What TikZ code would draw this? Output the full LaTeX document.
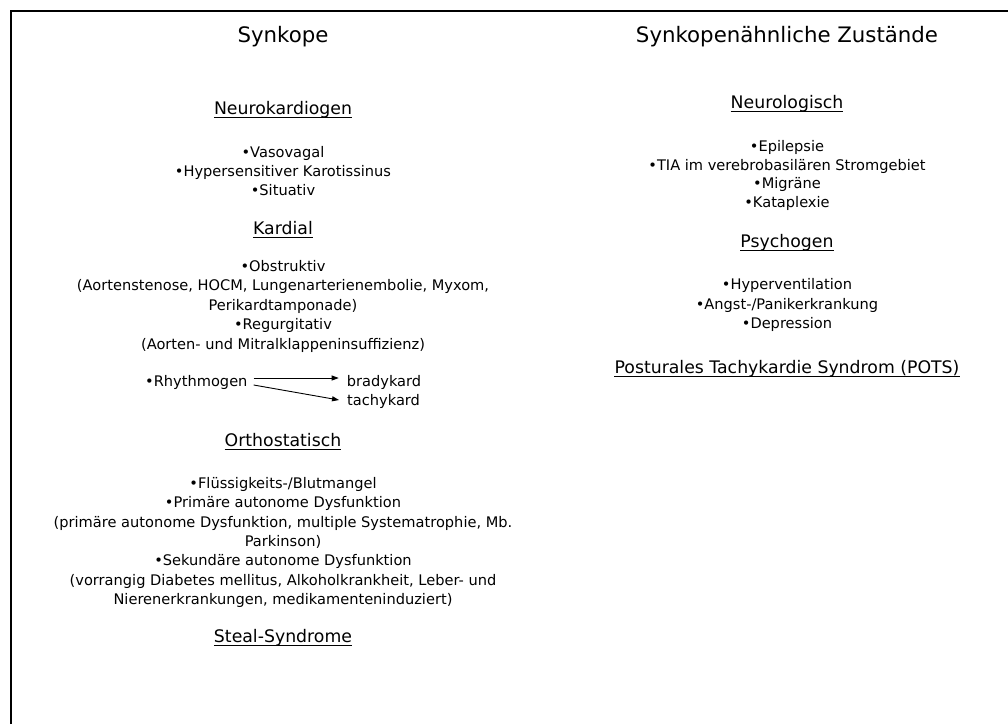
\documentclass[tikz,border=0pt]{standalone}
\usepackage{fontspec}
\setmainfont{DejaVu Sans}
\usetikzlibrary{arrows.meta}
\begin{document}
\begin{tikzpicture}[x=1pt,y=-1pt,
  txt/.style={inner sep=0pt, anchor=base, font=\fontsize{14.6}{19}\selectfont},
  ttl/.style={inner sep=0pt, anchor=base, font=\fontsize{21.3}{25}\selectfont},
  hd/.style={inner sep=0pt, anchor=base, font=\fontsize{17.3}{20}\selectfont},
  frame/.style={line width=2.3pt},
  arr/.style={line width=0.9pt, -{Triangle[length=7pt,width=5pt]}},
  ulbase/.style={line width=1.1pt}]
\useasboundingbox (0,0) rectangle (1008,724);
\fill[white] (0,0) rectangle (1008,724);
% frame (open to the right and bottom)
\draw[frame] (10.8,724) -- (10.8,10.8) -- (1008,10.8);

% ---------- left column ----------
\def\LX{283}
\node[ttl] (t1) at (\LX,42) {Synkope};

\node[hd] (h1) at (\LX,114) {Neurokardiogen};
\node[txt] (l1) at (\LX,157.3) {•Vasovagal};
\node[txt] (l2) at (\LX,176.5) {•Hypersensitiver Karotissinus};
\node[txt] (l3) at (\LX,195.7) {•Situativ};

\node[hd] (h2) at (\LX,234.7) {Kardial};
\node[txt] (k1) at (\LX,271.5) {•Obstruktiv};
\node[txt] (k2) at (\LX,290.9) {(Aortenstenose, HOCM, Lungenarterienembolie, Myxom,};
\node[txt] (k3) at (\LX,310.3) {Perikardtamponade)};
\node[txt] (k4) at (\LX,329.7) {•Regurgitativ};
\node[txt] (k5) at (\LX,349.1) {(Aorten- und Mitralklappeninsuffizienz)};

\node[txt, anchor=base west] (rhy) at (145,386) {•Rhythmogen};
\node[txt, anchor=base west] (brady) at (346.7,386) {bradykard};
\node[txt, anchor=base west] (tachy) at (347,405) {tachykard};
\draw[arr] ([shift={(6,-8)}]rhy.base east) -- ([shift={(-8,-8)}]brady.base west);
\draw[arr] ([shift={(6,-1)}]rhy.base east) -- ([shift={(-8,-5)}]tachy.base west);

\node[hd] (h3) at (\LX,446) {Orthostatisch};
\node[txt] (o1) at (\LX,488.5) {•Flüssigkeits-/Blutmangel};
\node[txt] (o2) at (\LX,507.8) {•Primäre autonome Dysfunktion};
\node[txt] (o3) at (\LX,527.1) {(primäre autonome Dysfunktion, multiple Systematrophie, Mb.};
\node[txt] (o4) at (\LX,546.4) {Parkinson)};
\node[txt] (o5) at (\LX,565.7) {•Sekundäre autonome Dysfunktion};
\node[txt] (o6) at (\LX,585) {(vorrangig Diabetes mellitus, Alkoholkrankheit, Leber- und};
\node[txt] (o7) at (\LX,604.3) {Nierenerkrankungen, medikamenteninduziert)};

\node[hd] (h4) at (\LX,642.3) {Steal-Syndrome};

% ---------- right column ----------
\def\RX{787}
\node[ttl] (t2) at (\RX,42) {Synkopenähnliche Zustände};

\node[hd] (h5) at (\RX,108) {Neurologisch};
\node[txt] (r1) at (\RX,151.2) {•Epilepsie};
\node[txt] (r2) at (\RX,170) {•TIA im verebrobasilären Stromgebiet};
\node[txt] (r3) at (\RX,188.8) {•Migräne};
\node[txt] (r4) at (\RX,207.8) {•Kataplexie};

\node[hd] (h6) at (\RX,247) {Psychogen};
\node[txt] (p1) at (\RX,289.9) {•Hyperventilation};
\node[txt] (p2) at (\RX,309.4) {•Angst-/Panikerkrankung};
\node[txt] (p3) at (\RX,328.6) {•Depression};

\node[hd] (h7) at (\RX,373.5) {Posturales Tachykardie Syndrom (POTS)};

% underlines of the headings
\foreach \h in {h1,h2,h3,h4,h5,h6,h7}
  \draw[ulbase] ([yshift=-3.2pt]\h.base west) -- ([yshift=-3.2pt]\h.base east);
\end{tikzpicture}
\end{document}
